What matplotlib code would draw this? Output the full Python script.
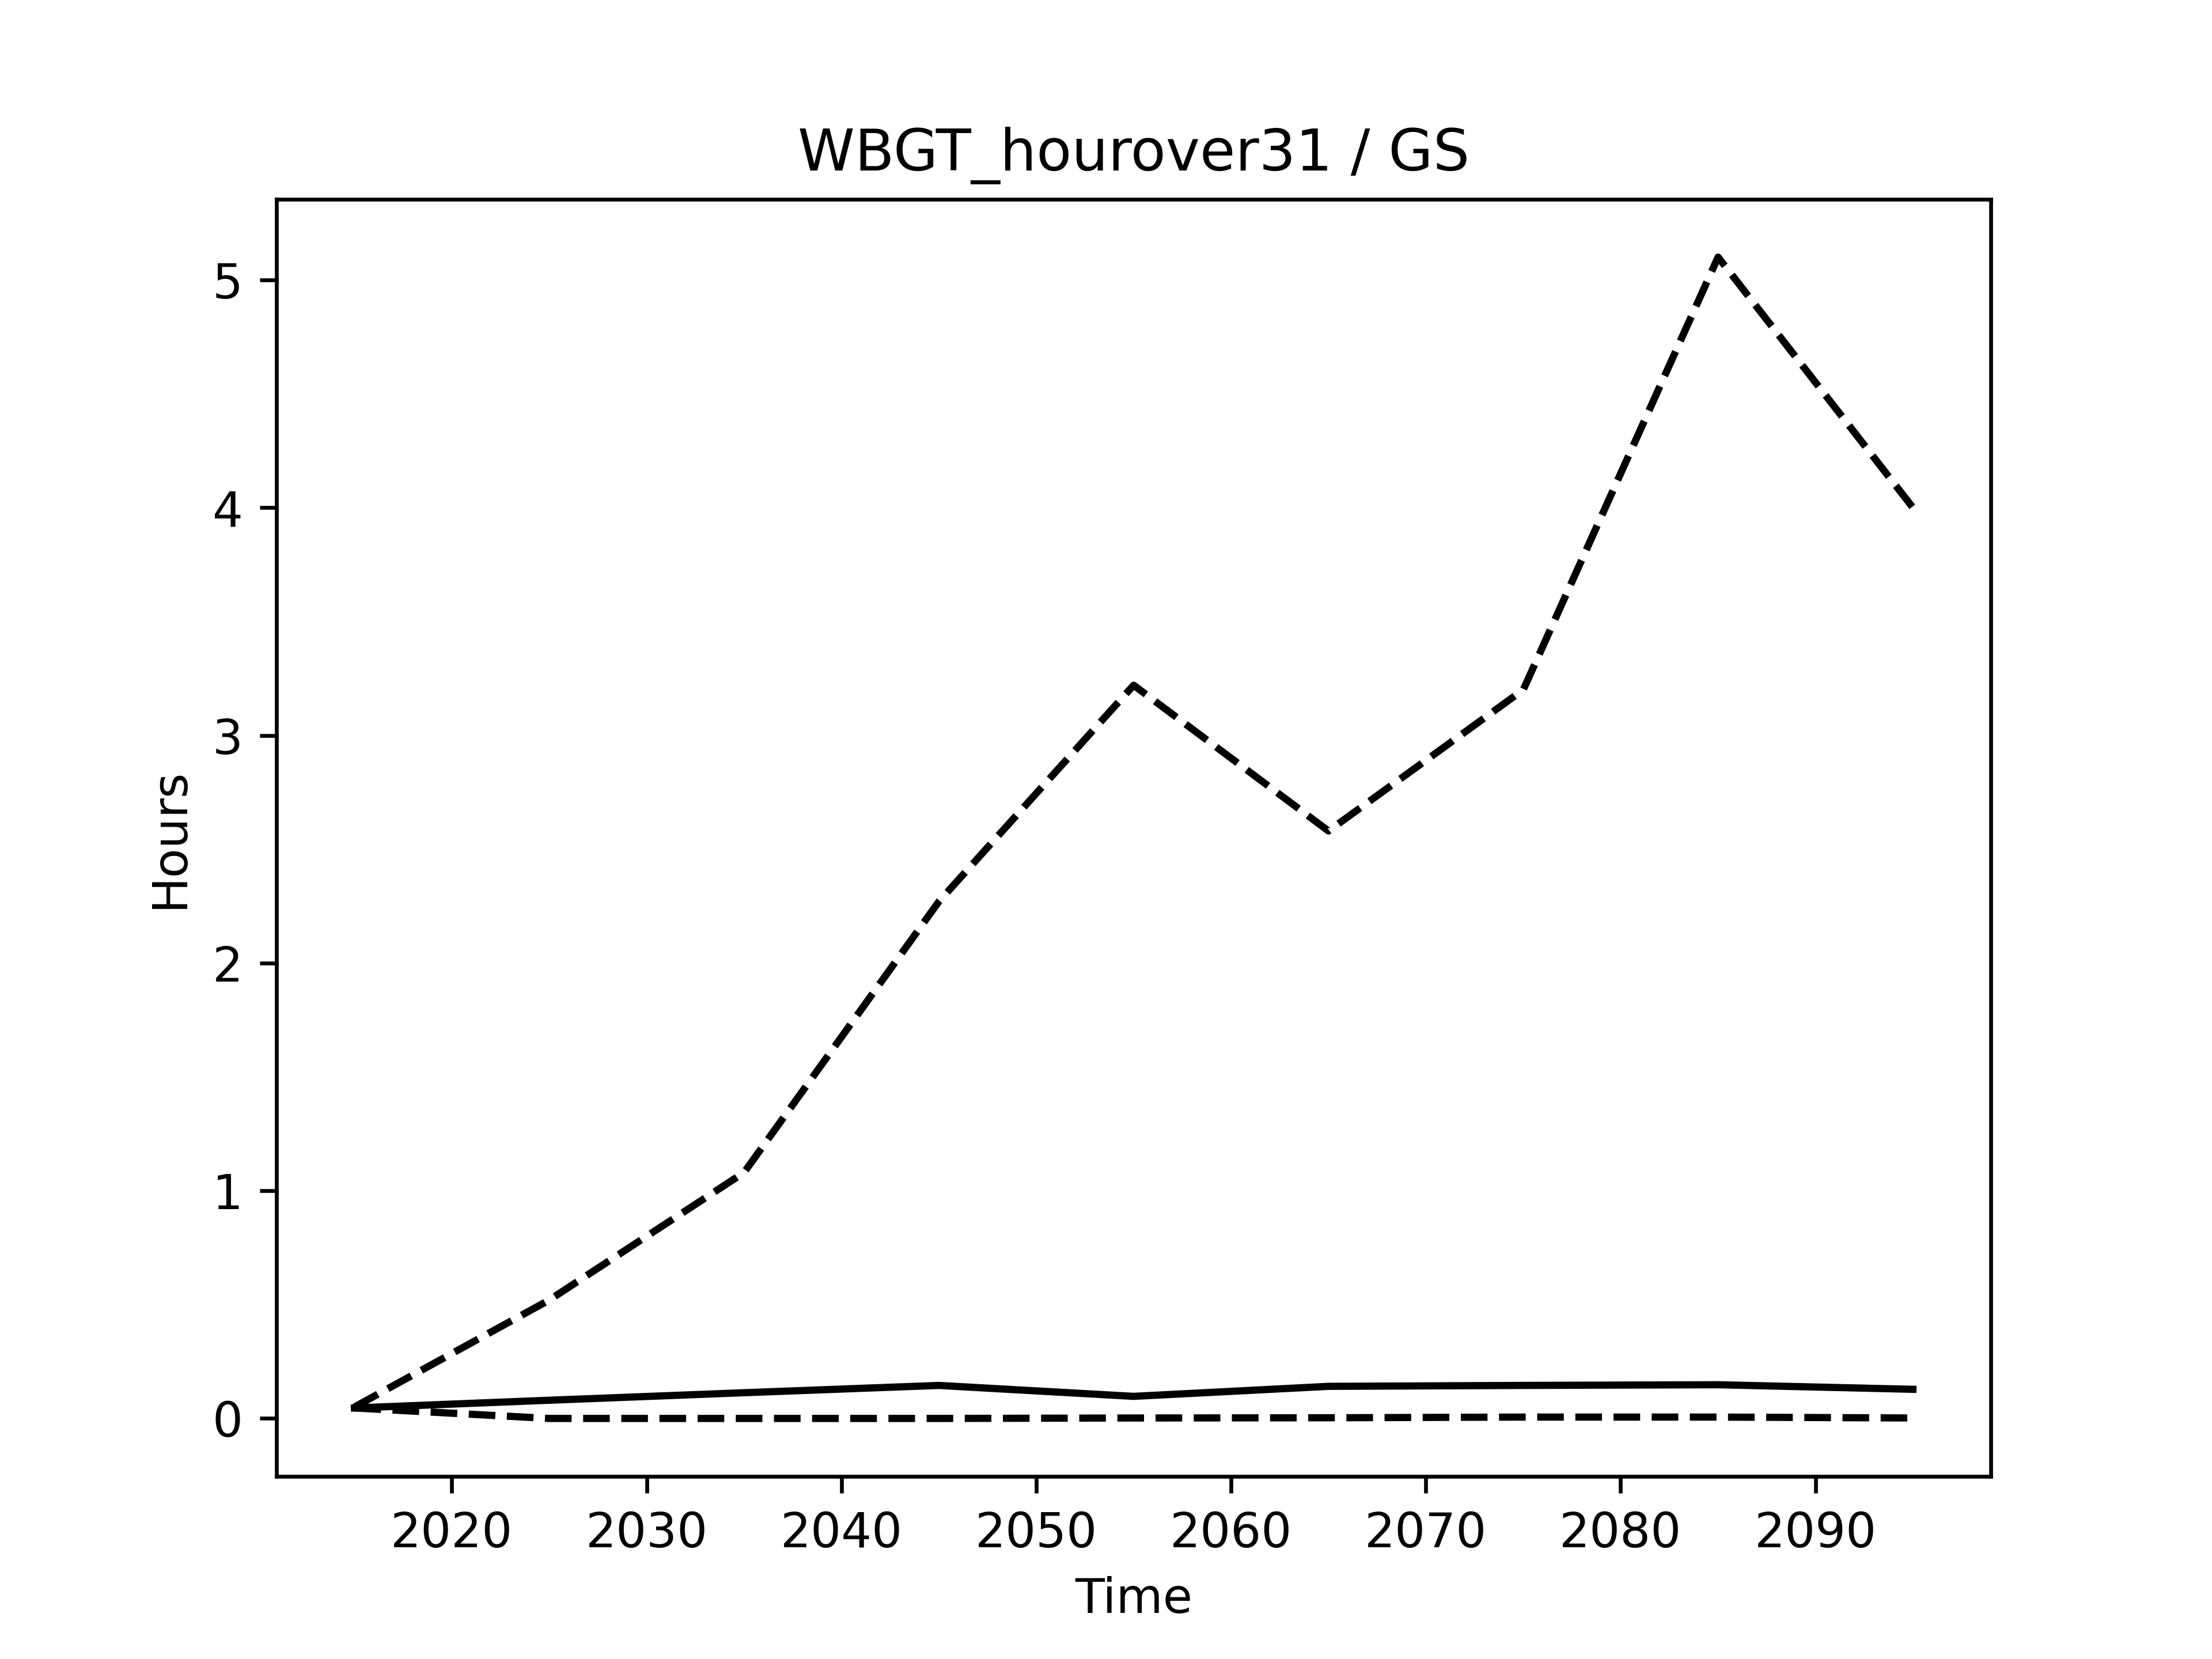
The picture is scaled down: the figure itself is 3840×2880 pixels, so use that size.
import matplotlib
matplotlib.use('Agg')

import matplotlib.pyplot as plt
import numpy as np

years = [2015, 2025, 2035, 2045, 2055, 2065, 2075, 2085, 2095]
upper = [0.05, 0.52, 1.08, 2.27, 3.22, 2.58, 3.20, 5.10, 4.00]
mean = [0.046, 0.08, 0.113, 0.145, 0.097, 0.141, 0.145, 0.148, 0.128]
lower = [0.046, 0.0, 0.0, 0.0, 0.002, 0.003, 0.006, 0.006, 0.002]

fig, ax = plt.subplots(figsize=(6.4, 4.8), dpi=600)

ax.plot(years, upper, color='k', linestyle='--')
ax.plot(years, mean, color='k', linestyle='-')
ax.plot(years, lower, color='k', linestyle='--')

ax.set_title('WBGT_hourover31 / GS')
ax.set_xlabel('Time')
ax.set_ylabel('Hours')

fig.savefig('out.png')
plt.close(fig)
